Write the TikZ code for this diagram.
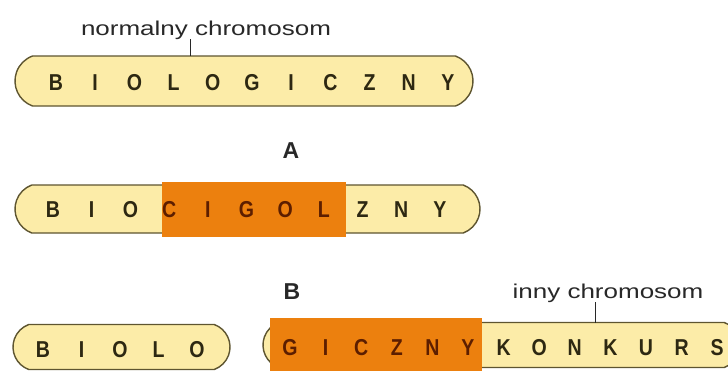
\documentclass[tikz,border=0pt]{standalone}
\usepackage{fontspec}
\setmainfont{Liberation Sans}
\newfontfamily\labelfont[FakeStretch=1.3]{Liberation Sans}
\newfontfamily\genefont[FakeStretch=0.85]{Liberation Sans}
\usetikzlibrary{shapes.misc}

\definecolor{chromfill}{RGB}{252,236,168}
\definecolor{chromline}{RGB}{94,85,48}
\definecolor{swaporange}{RGB}{236,128,14}
\definecolor{genetext}{RGB}{45,40,18}
\definecolor{swaptext}{RGB}{92,30,0}
\definecolor{labeltext}{RGB}{40,40,40}

\tikzset{
	chrom/.style={rounded rectangle, rounded rectangle arc length=140, draw=chromline, line width=1.4pt, fill=chromfill, inner sep=0pt},
	gene/.style={font=\genefont\bfseries\fontsize{23}{23}\selectfont, text=genetext, inner sep=0pt},
	swapgene/.style={gene, text=swaptext},
	lbl/.style={font=\labelfont\fontsize{20}{20}\selectfont, text=labeltext, inner sep=0pt, anchor=base},
	tag/.style={font=\bfseries\fontsize{23}{23}\selectfont, text=labeltext, inner sep=0pt},
	leader/.style={draw=labeltext, line width=1pt}
}

\begin{document}
\begin{tikzpicture}[x=1pt, y=-1pt]
\useasboundingbox (0, 0) rectangle (728, 370);

\node[chrom, minimum width=458pt, minimum height=50pt] (normal) at (244, 81) {};
\node[chrom, minimum width=465pt, minimum height=48pt] (inverted) at (247.5, 209) {};
\node[chrom, minimum width=217pt, minimum height=45pt] (broken) at (121.5, 347) {};
\node[chrom, minimum width=477pt, minimum height=45pt] (other) at (501.5, 345) {};

\fill[swaporange] (162, 182) rectangle (346, 237);
\fill[swaporange] (270, 318) rectangle (482, 372);

\foreach \c [count=\i from 0] in {B, I, O, L, O, G, I, C, Z, N, Y}
	\node[gene] (n\i) at ({56 + 39.2*\i}, 83) {\c};

\foreach \c/\s [count=\i from 0] in {B/gene, I/gene, O/gene, C/swapgene, I/swapgene, G/swapgene, O/swapgene, L/swapgene, Z/gene, N/gene, Y/gene}
	\node[\s] (m\i) at ({53 + 38.7*\i}, 210) {\c};

\foreach \c [count=\i from 0] in {B, I, O, L, O}
	\node[gene] (b\i) at ({43 + 38.5*\i}, 350) {\c};

\foreach \c/\s [count=\i from 0] in {G/swapgene, I/swapgene, C/swapgene, Z/swapgene, N/swapgene, Y/swapgene, K/gene, O/gene, N/gene, K/gene, U/gene, R/gene, S/gene}
	\node[\s] (o\i) at ({290 + 35.6*\i}, 348) {\c};

\node[tag] (stepA) at (291, 151) {A};
\node[tag] (stepB) at (292, 292) {B};

\node[lbl] (normlbl) at (206, 35) {normalny chromosom};
\node[lbl] (otherlbl) at (608, 298) {inny chromosom};

\coordinate (normtip) at (190, 56);
\coordinate (othertip) at (595, 323);
\draw[leader] (normtip |- normlbl.south) -- (normtip);
\draw[leader] (othertip |- otherlbl.south) -- (othertip);
\end{tikzpicture}
\end{document}
